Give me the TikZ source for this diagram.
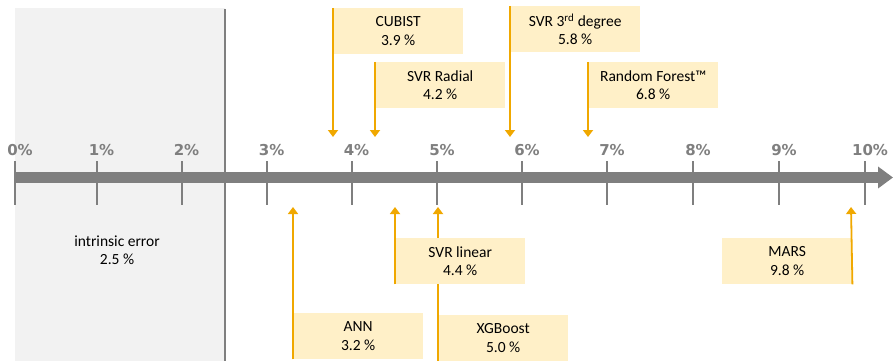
\documentclass[tikz,border=0pt]{standalone}
\usepackage{fontspec}
\setmainfont{Carlito}
\newfontfamily\tickfont{DejaVu Sans}
\usetikzlibrary{arrows.meta}
\definecolor{axisgray}{RGB}{127,127,127}
\definecolor{zonegray}{RGB}{242,242,242}
\definecolor{arrorange}{RGB}{240,168,0}
\definecolor{boxfill}{RGB}{255,240,200}
\tikzset{
  resbox/.style={fill=boxfill, draw=none, anchor=north west, minimum width=130pt,
    minimum height=46pt, inner sep=0pt, align=center, font=\fontsize{15.5}{18.5}\selectfont},
  resarrow/.style={draw=arrorange, line width=1.8pt, -{Triangle[width=10pt,length=7pt]}},
  tickmark/.style={draw=axisgray, line width=2pt},
  ticklabel/.style={text=axisgray, font=\tickfont\bfseries\fontsize{15}{17}\selectfont, inner sep=0pt, anchor=base},
}
\begin{document}
\begin{tikzpicture}[x=1pt,y=-1pt]
\useasboundingbox (0,0) rectangle (896,361);
% intrinsic error zone
\fill[zonegray] (15,8) rectangle (225,361);
\draw[axisgray, line width=2pt] (225,9) -- (225,361);
\node[align=center, font=\fontsize{15.5}{18.5}\selectfont] (intr) at (117,250) {intrinsic error\\2.5 \%};
% axis
\coordinate (axs) at (15,177.5);
\coordinate (axe) at (893,177.5);
\draw[axisgray, line width=11pt, -{Triangle[width=21pt,length=15pt]}] (axs) -- (axe);
% ticks
\foreach \x/\l in {15/0,96.5/1,181.5/2,266.7/3,351.5/4,437/5,522/6,607/7,693/8,779/9,865/10}{
  \draw[tickmark] (\x,161) -- (\x,205);
  \node[ticklabel] at (\x+5,155) {\l\%};
}
% top results
\node[resbox] (cubist) at (333,8) {CUBIST\\3.9 \%};
\coordinate (cubistT) at (333,137);
\draw[resarrow] (cubist.north west) -- (cubistT);
\node[resbox] (svrrad) at (375,62) {SVR Radial\\4.2 \%};
\coordinate (svrradT) at (375,137);
\draw[resarrow] (svrrad.north west) -- (svrradT);
\node[resbox] (svrthree) at (510,6) {SVR 3\textsuperscript{rd} degree\\5.8 \%};
\coordinate (svrthreeT) at (510,137);
\draw[resarrow] (svrthree.north west) -- (svrthreeT);
\node[resbox] (rf) at (588,62) {Random Forest™\\6.8 \%};
\coordinate (rfT) at (588,137);
\draw[resarrow] (rf.north west) -- (rfT);
% bottom results
\node[resbox] (ann) at (293,313) {ANN\\3.2 \%};
\coordinate (annT) at (293,207);
\draw[resarrow] (ann.south west) -- (annT);
\node[resbox] (xgb) at (438,315) {XGBoost\\5.0 \%};
\coordinate (xgbT) at (438,207);
\draw[resarrow] (xgb.south west) -- (xgbT);
\node[resbox] (svrlin) at (395,238) {SVR linear\\4.4 \%};
\coordinate (svrlinT) at (395,207);
\draw[resarrow] (svrlin.south west) -- (svrlinT);
\node[resbox] (mars) at (722,238) {MARS\\9.8 \%};
\coordinate (marsT) at (851,207);
\draw[resarrow] (mars.south east) -- (marsT);
\end{tikzpicture}
\end{document}
